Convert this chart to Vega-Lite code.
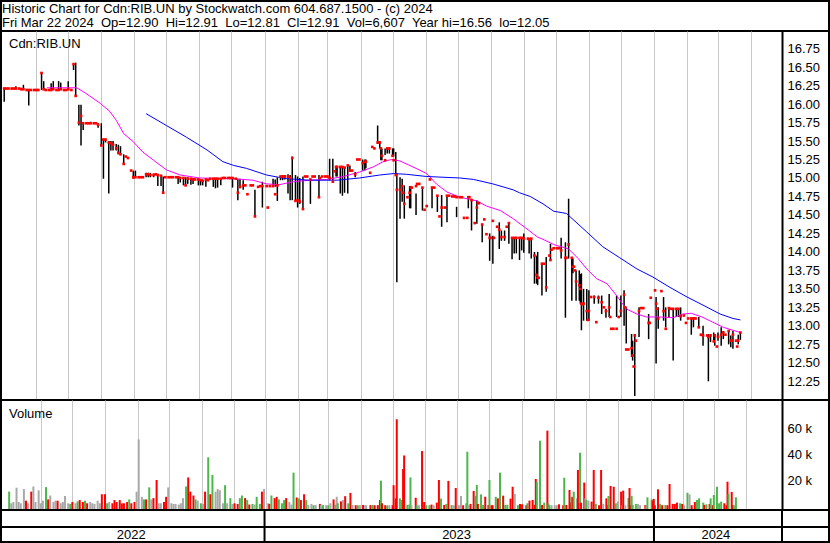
{
"$schema": "https://vega.github.io/schema/vega-lite/v6.json",
"padding": 0,
"bounds": "flush",
"spacing": 0,
"background": "white",
"config": {
  "font": "Liberation Sans",
  "view": {"stroke": "black", "strokeWidth": 2},
  "axis": {"minExtent": 0, "maxExtent": 0},
  "title": {"fontWeight": "normal", "fontSize": 13, "font": "Liberation Sans", "color": "black", "anchor": "start", "frame": "group"}
},
"resolve": {"scale": {"x": "independent", "y": "independent", "color": "independent"}},
"datasets": {
"hd": [
 {"n": 1, "s": "Historic Chart for Cdn:RIB.UN by Stockwatch.com 604.687.1500 - (c) 2024"},
 {"n": 2, "s": "Fri Mar 22 2024\u00a0 Op=12.90\u00a0 Hi=12.91\u00a0 Lo=12.81\u00a0 Cl=12.91\u00a0 Vol=6,607\u00a0 Year hi=16.56\u00a0 lo=12.05"}
],
"pg": [{"p":12.25},{"p":12.5},{"p":12.75},{"p":13},{"p":13.25},{"p":13.5},{"p":13.75},{"p":14},{"p":14.25},{"p":14.5},{"p":14.75},{"p":15},{"p":15.25},{"p":15.5},{"p":15.75},{"p":16},{"p":16.25},{"p":16.5},{"p":16.75}],
"vg": [{"q": 20000}, {"q": 40000}, {"q": 60000}],
"yb": [{"d": "2023-01-01"}, {"d": "2024-01-01"}, {"d": "2024-04-30"}],
"yr": [{"yr": "2022", "d": "2022-08-29"}, {"yr": "2023", "d": "2023-06-30"}, {"yr": "2024", "d": "2024-02-28"}],
"ma": [
{"d":"2022-06-11","m":16.22,"s":"m"},{"d":"2022-07-09","m":16.22,"s":"m"},{"d":"2022-07-17","m":16.15,"s":"m"},{"d":"2022-07-31","m":16.01,"s":"m"},{"d":"2022-08-09","m":15.9,"s":"m"},{"d":"2022-08-15","m":15.78,"s":"m"},{"d":"2022-08-22","m":15.6,"s":"m"},{"d":"2022-08-31","m":15.49,"s":"m"},{"d":"2022-09-09","m":15.35,"s":"m"},{"d":"2022-09-19","m":15.24,"s":"m"},{"d":"2022-10-01","m":15.11,"s":"m"},{"d":"2022-10-14","m":15.04,"s":"m"},{"d":"2022-11-01","m":15.0,"s":"m"},{"d":"2022-12-02","m":14.99,"s":"m"},{"d":"2022-12-21","m":14.97,"s":"m"},{"d":"2023-01-03","m":14.92,"s":"m"},{"d":"2023-01-15","m":14.91,"s":"m"},{"d":"2023-01-28","m":14.95,"s":"m"},{"d":"2023-02-12","m":14.97,"s":"m"},{"d":"2023-02-28","m":14.98,"s":"m"},{"d":"2023-03-16","m":15.02,"s":"m"},{"d":"2023-03-31","m":15.08,"s":"m"},{"d":"2023-04-13","m":15.15,"s":"m"},{"d":"2023-04-22","m":15.22,"s":"m"},{"d":"2023-04-30","m":15.25,"s":"m"},{"d":"2023-05-08","m":15.23,"s":"m"},{"d":"2023-05-23","m":15.13,"s":"m"},{"d":"2023-06-02","m":15.06,"s":"m"},{"d":"2023-06-11","m":14.92,"s":"m"},{"d":"2023-06-21","m":14.81,"s":"m"},{"d":"2023-07-03","m":14.74,"s":"m"},{"d":"2023-07-19","m":14.69,"s":"m"},{"d":"2023-07-28","m":14.62,"s":"m"},{"d":"2023-08-10","m":14.56,"s":"m"},{"d":"2023-08-22","m":14.45,"s":"m"},{"d":"2023-09-04","m":14.31,"s":"m"},{"d":"2023-09-14","m":14.2,"s":"m"},{"d":"2023-09-19","m":14.17,"s":"m"},{"d":"2023-09-29","m":14.1,"s":"m"},{"d":"2023-10-13","m":14.04,"s":"m"},{"d":"2023-10-22","m":13.91,"s":"m"},{"d":"2023-10-30","m":13.77,"s":"m"},{"d":"2023-11-08","m":13.64,"s":"m"},{"d":"2023-11-18","m":13.57,"s":"m"},{"d":"2023-11-27","m":13.41,"s":"m"},{"d":"2023-12-06","m":13.23,"s":"m"},{"d":"2023-12-16","m":13.16,"s":"m"},{"d":"2023-12-25","m":13.12,"s":"m"},{"d":"2024-01-07","m":13.12,"s":"m"},{"d":"2024-01-19","m":13.11,"s":"m"},{"d":"2024-01-28","m":13.16,"s":"m"},{"d":"2024-02-05","m":13.17,"s":"m"},{"d":"2024-02-15","m":13.12,"s":"m"},{"d":"2024-02-25","m":13.05,"s":"m"},{"d":"2024-03-06","m":12.98,"s":"m"},{"d":"2024-03-15","m":12.94,"s":"m"},{"d":"2024-03-22","m":12.91,"s":"m"},
{"d":"2022-09-12","m":15.87,"s":"b"},{"d":"2022-10-01","m":15.71,"s":"b"},{"d":"2022-10-20","m":15.55,"s":"b"},{"d":"2022-11-08","m":15.38,"s":"b"},{"d":"2022-11-23","m":15.22,"s":"b"},{"d":"2022-12-03","m":15.17,"s":"b"},{"d":"2022-12-15","m":15.13,"s":"b"},{"d":"2023-01-03","m":15.04,"s":"b"},{"d":"2023-01-14","m":15.01,"s":"b"},{"d":"2023-01-22","m":14.99,"s":"b"},{"d":"2023-02-12","m":14.97,"s":"b"},{"d":"2023-03-10","m":14.97,"s":"b"},{"d":"2023-03-31","m":15.0,"s":"b"},{"d":"2023-04-19","m":15.04,"s":"b"},{"d":"2023-05-02","m":15.06,"s":"b"},{"d":"2023-05-14","m":15.05,"s":"b"},{"d":"2023-06-02","m":15.02,"s":"b"},{"d":"2023-07-03","m":15.0,"s":"b"},{"d":"2023-07-16","m":14.98,"s":"b"},{"d":"2023-08-03","m":14.92,"s":"b"},{"d":"2023-08-22","m":14.84,"s":"b"},{"d":"2023-08-28","m":14.8,"s":"b"},{"d":"2023-09-07","m":14.75,"s":"b"},{"d":"2023-09-19","m":14.65,"s":"b"},{"d":"2023-09-29","m":14.55,"s":"b"},{"d":"2023-10-11","m":14.52,"s":"b"},{"d":"2023-10-30","m":14.27,"s":"b"},{"d":"2023-11-14","m":14.07,"s":"b"},{"d":"2023-11-30","m":13.92,"s":"b"},{"d":"2023-12-16","m":13.77,"s":"b"},{"d":"2023-12-31","m":13.66,"s":"b"},{"d":"2024-01-16","m":13.52,"s":"b"},{"d":"2024-02-01","m":13.39,"s":"b"},{"d":"2024-02-16","m":13.28,"s":"b"},{"d":"2024-03-03","m":13.16,"s":"b"},{"d":"2024-03-15","m":13.1,"s":"b"},{"d":"2024-03-22","m":13.08,"s":"b"}
],
"px": [
{"d":"2022-05-02","h":16.22,"l":16.03,"c":16.21,"v":11000,"t":"u"},
{"d":"2022-05-04","c":16.21,"v":2000,"t":"n"},
{"d":"2022-05-06","c":16.21,"v":3000,"t":"n"},
{"d":"2022-05-09","c":16.21,"v":14000,"t":"n"},
{"d":"2022-05-11","c":16.21,"v":3000,"t":"n"},
{"d":"2022-05-13","h":16.24,"l":16.21,"c":16.21,"v":2000,"t":"n"},
{"d":"2022-05-16","c":16.21,"v":13000,"t":"n"},
{"d":"2022-05-18","h":16.22,"l":16.19,"c":16.2,"v":4000,"t":"d"},
{"d":"2022-05-20","h":16.26,"l":16.19,"c":16.2,"v":2000,"t":"n"},
{"d":"2022-05-23","c":16.19,"v":11000,"t":"d"},
{"d":"2022-05-25","h":16.2,"l":15.98,"c":16.19,"v":15000,"t":"n"},
{"d":"2022-05-27","c":16.19,"v":3000,"t":"n"},
{"d":"2022-05-30","c":16.19,"v":12000,"t":"n"},
{"d":"2022-06-01","c":16.19,"v":2000,"t":"n"},
{"d":"2022-06-03","c":16.19,"v":4000,"t":"n"},
{"d":"2022-06-06","h":16.43,"l":16.19,"c":16.42,"v":14500,"t":"u"},
{"d":"2022-06-08","h":16.31,"l":16.19,"c":16.2,"v":5000,"t":"d"},
{"d":"2022-06-10","c":16.19,"v":8000,"t":"n"},
{"d":"2022-06-13","c":16.19,"v":3000,"t":"n"},
{"d":"2022-06-15","h":16.28,"l":16.19,"c":16.19,"v":4000,"t":"n"},
{"d":"2022-06-17","h":16.31,"l":16.2,"c":16.2,"v":4000,"t":"d"},
{"d":"2022-06-20","c":16.19,"v":2000,"t":"n"},
{"d":"2022-06-22","h":16.31,"l":16.19,"c":16.19,"v":3000,"t":"n"},
{"d":"2022-06-24","h":16.29,"l":16.21,"c":16.2,"v":7700,"t":"n"},
{"d":"2022-06-27","c":16.19,"v":2000,"t":"n"},
{"d":"2022-06-29","c":16.19,"v":1500,"t":"u"},
{"d":"2022-07-01","h":16.31,"l":16.2,"c":16.2,"v":3000,"t":"d"},
{"d":"2022-07-04","c":16.19,"v":2000,"t":"n"},
{"d":"2022-07-06","h":16.54,"l":16.46,"c":16.54,"v":3500,"t":"u"},
{"d":"2022-07-08","h":16.56,"l":16.1,"c":16.11,"v":4500,"t":"d"},
{"d":"2022-07-11","h":15.99,"l":15.71,"c":15.75,"v":3000,"t":"d"},
{"d":"2022-07-13","h":15.99,"l":15.44,"c":15.84,"v":4000,"t":"u"},
{"d":"2022-07-15","h":15.74,"l":15.65,"c":15.74,"v":2000,"t":"d"},
{"d":"2022-07-18","c":15.74,"v":3000,"t":"n"},
{"d":"2022-07-20","c":15.74,"v":2000,"t":"n"},
{"d":"2022-07-22","h":15.76,"l":15.73,"c":15.74,"v":1500,"t":"n"},
{"d":"2022-07-25","c":15.74,"v":4000,"t":"n"},
{"d":"2022-07-27","c":15.74,"v":2000,"t":"n"},
{"d":"2022-07-29","h":15.74,"l":15.68,"c":15.72,"v":9000,"t":"d"},
{"d":"2022-08-01","h":15.74,"l":15.44,"c":15.44,"v":9000,"t":"d"},
{"d":"2022-08-03","h":15.53,"l":14.99,"c":15.52,"v":2000,"t":"u"},
{"d":"2022-08-05","h":15.52,"l":15.48,"c":15.52,"v":3000,"t":"n"},
{"d":"2022-08-08","h":15.5,"l":14.79,"c":15.48,"v":2000,"t":"d"},
{"d":"2022-08-10","h":15.5,"l":15.37,"c":15.47,"v":4500,"t":"d"},
{"d":"2022-08-12","h":15.5,"l":15.37,"c":15.45,"v":3000,"t":"d"},
{"d":"2022-08-15","h":15.46,"l":15.37,"c":15.4,"v":4500,"t":"d"},
{"d":"2022-08-17","h":15.45,"l":15.32,"c":15.34,"v":2000,"t":"d"},
{"d":"2022-08-19","h":15.43,"l":15.32,"c":15.32,"v":2000,"t":"d"},
{"d":"2022-08-22","h":15.32,"l":15.18,"c":15.19,"v":3000,"t":"d"},
{"d":"2022-08-24","c":15.29,"v":5000,"t":"u"},
{"d":"2022-08-26","c":15.27,"v":2000,"t":"d"},
{"d":"2022-08-29","c":15.1,"v":3000,"t":"d"},
{"d":"2022-08-31","h":15.1,"l":14.99,"c":15.01,"v":11000,"t":"n"},
{"d":"2022-09-02","h":15.1,"l":15.0,"c":15.01,"v":51400,"t":"n"},
{"d":"2022-09-05","c":15.01,"v":7000,"t":"n"},
{"d":"2022-09-07","c":15.01,"v":5000,"t":"u"},
{"d":"2022-09-09","c":15.01,"v":5000,"t":"d"},
{"d":"2022-09-12","h":15.07,"l":15.01,"c":15.05,"v":14300,"t":"u"},
{"d":"2022-09-14","h":15.07,"l":15.01,"c":15.05,"v":5000,"t":"n"},
{"d":"2022-09-16","h":15.07,"l":15.01,"c":15.04,"v":6000,"t":"d"},
{"d":"2022-09-19","h":15.06,"l":15.01,"c":15.04,"v":20000,"t":"d"},
{"d":"2022-09-21","c":15.05,"v":2000,"t":"n"},
{"d":"2022-09-23","h":15.04,"l":14.89,"c":15.04,"v":2000,"t":"n"},
{"d":"2022-09-26","h":15.04,"l":14.89,"c":15.03,"v":3000,"t":"d"},
{"d":"2022-09-28","h":15.02,"l":14.8,"c":14.8,"v":7000,"t":"d"},
{"d":"2022-09-30","c":15.01,"v":14300,"t":"n"},
{"d":"2022-10-03","c":15.01,"v":2000,"t":"n"},
{"d":"2022-10-05","c":15.01,"v":1500,"t":"n"},
{"d":"2022-10-07","c":15.01,"v":1500,"t":"n"},
{"d":"2022-10-10","c":15.01,"v":1000,"t":"n"},
{"d":"2022-10-12","h":15.01,"l":14.92,"c":15.01,"v":2000,"t":"n"},
{"d":"2022-10-14","h":15.01,"l":14.94,"c":15.0,"v":6000,"t":"n"},
{"d":"2022-10-17","h":15.01,"l":14.9,"c":15.0,"v":15000,"t":"u"},
{"d":"2022-10-19","h":15.01,"l":14.9,"c":14.9,"v":22000,"t":"d"},
{"d":"2022-10-21","h":15.01,"l":14.92,"c":14.99,"v":11000,"t":"d"},
{"d":"2022-10-24","h":15.0,"l":14.91,"c":14.99,"v":8000,"t":"d"},
{"d":"2022-10-26","h":15.0,"l":14.92,"c":14.98,"v":5000,"t":"u"},
{"d":"2022-10-28","c":14.98,"v":4000,"t":"n"},
{"d":"2022-10-31","h":14.99,"l":14.9,"c":14.98,"v":2000,"t":"u"},
{"d":"2022-11-02","h":14.98,"l":14.9,"c":14.97,"v":1500,"t":"n"},
{"d":"2022-11-04","h":14.98,"l":14.9,"c":14.96,"v":11000,"t":"d"},
{"d":"2022-11-07","h":14.98,"l":14.88,"c":14.98,"v":37600,"t":"u"},
{"d":"2022-11-09","c":14.97,"v":9000,"t":"d"},
{"d":"2022-11-11","c":14.99,"v":24000,"t":"u"},
{"d":"2022-11-14","h":14.99,"l":14.88,"c":14.99,"v":11000,"t":"n"},
{"d":"2022-11-16","h":14.99,"l":14.86,"c":14.99,"v":13000,"t":"n"},
{"d":"2022-11-18","h":14.99,"l":14.87,"c":14.99,"v":12000,"t":"n"},
{"d":"2022-11-21","h":14.99,"l":14.9,"c":14.99,"v":2000,"t":"n"},
{"d":"2022-11-23","c":15.0,"v":16000,"t":"u"},
{"d":"2022-11-25","c":15.0,"v":2000,"t":"n"},
{"d":"2022-11-28","c":15.0,"v":6000,"t":"u"},
{"d":"2022-11-30","c":15.0,"v":1500,"t":"n"},
{"d":"2022-12-02","h":15.0,"l":14.87,"c":15.0,"v":2000,"t":"d"},
{"d":"2022-12-05","c":14.99,"v":1500,"t":"d"},
{"d":"2022-12-07","h":14.99,"l":14.7,"c":14.8,"v":6000,"t":"u"},
{"d":"2022-12-09","h":14.99,"l":14.86,"c":14.88,"v":8000,"t":"u"},
{"d":"2022-12-12","h":14.97,"l":14.84,"c":14.9,"v":6000,"t":"d"},
{"d":"2022-12-14","c":14.9,"v":4500,"t":"u"},
{"d":"2022-12-16","c":14.78,"v":1000,"t":"d"},
{"d":"2022-12-19","c":14.9,"v":1500,"t":"u"},
{"d":"2022-12-21","c":14.9,"v":1000,"t":"n"},
{"d":"2022-12-23","h":14.84,"l":14.48,"c":14.48,"v":7000,"t":"u"},
{"d":"2022-12-26","c":14.88,"v":1500,"t":"u"},
{"d":"2022-12-28","c":14.89,"v":11000,"t":"d"},
{"d":"2022-12-30","h":14.95,"l":14.6,"c":14.89,"v":13000,"t":"n"},
{"d":"2023-01-03","c":14.89,"v":2000,"t":"n"},
{"d":"2023-01-04","c":14.6,"v":1500,"t":"d"},
{"d":"2023-01-06","c":14.89,"v":8000,"t":"u"},
{"d":"2023-01-09","h":14.99,"l":14.88,"c":14.89,"v":6000,"t":"d"},
{"d":"2023-01-11","h":14.98,"l":14.88,"c":14.78,"v":7000,"t":"d"},
{"d":"2023-01-13","h":15.01,"l":14.69,"c":14.9,"v":5000,"t":"u"},
{"d":"2023-01-16","h":15.03,"l":14.97,"c":15.02,"v":2000,"t":"u"},
{"d":"2023-01-18","h":15.04,"l":14.97,"c":15.02,"v":4500,"t":"u"},
{"d":"2023-01-20","h":15.04,"l":14.98,"c":15.02,"v":6000,"t":"d"},
{"d":"2023-01-23","h":15.05,"l":14.79,"c":15.02,"v":3000,"t":"n"},
{"d":"2023-01-25","h":15.04,"l":14.7,"c":15.0,"v":1000,"t":"n"},
{"d":"2023-01-27","h":15.29,"l":14.7,"c":15.27,"v":25700,"t":"u"},
{"d":"2023-01-30","h":15.04,"l":14.7,"c":14.69,"v":6500,"t":"d"},
{"d":"2023-02-01","h":15.02,"l":14.6,"c":14.7,"v":5800,"t":"u"},
{"d":"2023-02-03","h":15.0,"l":14.65,"c":14.68,"v":4500,"t":"d"},
{"d":"2023-02-06","h":15.02,"l":14.58,"c":14.58,"v":9000,"t":"d"},
{"d":"2023-02-08","c":15.02,"v":4500,"t":"u"},
{"d":"2023-02-10","c":15.02,"v":700,"t":"n"},
{"d":"2023-02-13","h":14.99,"l":14.65,"c":14.98,"v":1500,"t":"n"},
{"d":"2023-02-15","c":15.02,"v":500,"t":"u"},
{"d":"2023-02-17","c":15.02,"v":800,"t":"n"},
{"d":"2023-02-21","h":15.04,"l":14.74,"c":14.74,"v":1500,"t":"d"},
{"d":"2023-02-22","c":15.0,"v":500,"t":"n"},
{"d":"2023-02-24","c":15.02,"v":600,"t":"u"},
{"d":"2023-02-27","c":15.02,"v":500,"t":"n"},
{"d":"2023-03-01","c":15.02,"v":500,"t":"u"},
{"d":"2023-03-03","h":15.26,"l":14.97,"c":15.0,"v":2000,"t":"n"},
{"d":"2023-03-06","h":15.26,"l":14.97,"c":14.95,"v":5000,"t":"d"},
{"d":"2023-03-08","c":15.09,"v":1000,"t":"u"},
{"d":"2023-03-09","h":15.15,"l":15.02,"c":15.15,"v":7000,"t":"n"},
{"d":"2023-03-10","h":15.15,"l":15.02,"c":15.15,"v":2000,"t":"u"},
{"d":"2023-03-13","h":15.15,"l":14.79,"c":15.15,"v":3500,"t":"d"},
{"d":"2023-03-15","h":15.15,"l":14.76,"c":15.15,"v":4500,"t":"n"},
{"d":"2023-03-17","h":15.15,"l":14.8,"c":15.14,"v":7500,"t":"d"},
{"d":"2023-03-20","h":15.17,"l":14.79,"c":15.17,"v":2000,"t":"u"},
{"d":"2023-03-22","h":15.17,"l":15.08,"c":15.1,"v":10000,"t":"d"},
{"d":"2023-03-24","c":15.1,"v":700,"t":"n"},
{"d":"2023-03-27","h":15.08,"l":15.01,"c":15.05,"v":500,"t":"d"},
{"d":"2023-03-29","c":15.25,"v":500,"t":"u"},
{"d":"2023-03-31","c":15.25,"v":500,"t":"n"},
{"d":"2023-04-03","h":15.25,"l":15.1,"c":15.2,"v":700,"t":"d"},
{"d":"2023-04-05","h":15.25,"l":15.1,"c":15.22,"v":500,"t":"n"},
{"d":"2023-04-06","h":15.25,"l":15.13,"c":15.22,"v":500,"t":"n"},
{"d":"2023-04-10","c":15.07,"v":600,"t":"d"},
{"d":"2023-04-12","c":15.42,"v":700,"t":"u"},
{"d":"2023-04-14","c":15.4,"v":500,"t":"d"},
{"d":"2023-04-17","h":15.71,"l":15.46,"c":15.48,"v":600,"t":"d"},
{"d":"2023-04-19","h":15.5,"l":15.4,"c":15.48,"v":4500,"t":"d"},
{"d":"2023-04-20","h":15.4,"l":15.24,"c":15.4,"v":19500,"t":"u"},
{"d":"2023-04-21","h":15.4,"l":15.24,"c":15.3,"v":2000,"t":"d"},
{"d":"2023-04-24","h":15.4,"l":15.31,"c":15.24,"v":500,"t":"d"},
{"d":"2023-04-26","h":15.4,"l":15.33,"c":15.4,"v":400,"t":"u"},
{"d":"2023-04-28","h":15.4,"l":15.33,"c":15.4,"v":500,"t":"n"},
{"d":"2023-05-01","h":15.4,"l":15.29,"c":15.3,"v":500,"t":"d"},
{"d":"2023-05-02","h":15.4,"l":15.29,"c":15.24,"v":16000,"t":"d"},
{"d":"2023-05-04","h":15.35,"l":15.04,"c":15.04,"v":5800,"t":"d"},
{"d":"2023-05-05","h":15.06,"l":13.59,"c":14.84,"v":67000,"t":"d"},
{"d":"2023-05-08","h":15.01,"l":14.45,"c":14.84,"v":5800,"t":"u"},
{"d":"2023-05-10","h":14.99,"l":14.68,"c":14.89,"v":4500,"t":"u"},
{"d":"2023-05-11","c":14.8,"v":28500,"t":"d"},
{"d":"2023-05-12","h":14.9,"l":14.45,"c":14.65,"v":39000,"t":"d"},
{"d":"2023-05-15","c":14.74,"v":800,"t":"u"},
{"d":"2023-05-17","h":14.89,"l":14.59,"c":14.8,"v":1000,"t":"u"},
{"d":"2023-05-18","h":14.89,"l":14.59,"c":14.87,"v":22000,"t":"u"},
{"d":"2023-05-19","c":14.87,"v":500,"t":"n"},
{"d":"2023-05-23","h":14.79,"l":14.5,"c":14.89,"v":6300,"t":"d"},
{"d":"2023-05-24","c":14.92,"v":500,"t":"u"},
{"d":"2023-05-26","c":14.92,"v":500,"t":"n"},
{"d":"2023-05-29","h":14.87,"l":14.56,"c":14.87,"v":42400,"t":"d"},
{"d":"2023-05-31","c":14.57,"v":3000,"t":"d"},
{"d":"2023-06-02","c":14.62,"v":500,"t":"u"},
{"d":"2023-06-05","c":14.98,"v":500,"t":"u"},
{"d":"2023-06-07","h":14.88,"l":14.59,"c":14.87,"v":1000,"t":"d"},
{"d":"2023-06-09","c":14.87,"v":500,"t":"n"},
{"d":"2023-06-12","h":14.77,"l":14.54,"c":14.76,"v":2500,"t":"d"},
{"d":"2023-06-14","c":14.48,"v":20000,"t":"d"},
{"d":"2023-06-16","h":14.77,"l":14.34,"c":14.6,"v":5600,"t":"u"},
{"d":"2023-06-19","c":14.6,"v":700,"t":"d"},
{"d":"2023-06-21","h":14.77,"l":14.4,"c":14.76,"v":1500,"t":"u"},
{"d":"2023-06-23","c":14.76,"v":19300,"t":"d"},
{"d":"2023-06-26","c":14.75,"v":700,"t":"u"},
{"d":"2023-06-28","c":14.75,"v":500,"t":"n"},
{"d":"2023-06-30","h":14.61,"l":14.47,"c":14.74,"v":13800,"t":"d"},
{"d":"2023-07-03","c":14.74,"v":500,"t":"n"},
{"d":"2023-07-05","c":14.74,"v":7600,"t":"n"},
{"d":"2023-07-07","c":14.46,"v":500,"t":"d"},
{"d":"2023-07-10","c":14.46,"v":2000,"t":"u"},
{"d":"2023-07-11","h":14.74,"l":14.59,"c":14.74,"v":41900,"t":"u"},
{"d":"2023-07-12","c":14.74,"v":500,"t":"n"},
{"d":"2023-07-14","h":14.72,"l":14.29,"c":14.7,"v":1500,"t":"d"},
{"d":"2023-07-17","c":14.39,"v":11500,"t":"d"},
{"d":"2023-07-19","h":14.7,"l":14.38,"c":14.6,"v":7600,"t":"u"},
{"d":"2023-07-20","c":14.66,"v":16200,"t":"u"},
{"d":"2023-07-21","c":14.66,"v":1500,"t":"d"},
{"d":"2023-07-24","h":14.38,"l":14.13,"c":14.37,"v":8900,"t":"u"},
{"d":"2023-07-26","c":14.44,"v":800,"t":"u"},
{"d":"2023-07-28","c":14.24,"v":7100,"t":"d"},
{"d":"2023-07-31","h":14.25,"l":13.88,"c":14.19,"v":700,"t":"d"},
{"d":"2023-08-01","c":14.19,"v":20000,"t":"u"},
{"d":"2023-08-03","h":14.22,"l":13.84,"c":14.42,"v":500,"t":"d"},
{"d":"2023-08-04","c":14.19,"v":500,"t":"d"},
{"d":"2023-08-07","c":14.34,"v":7000,"t":"u"},
{"d":"2023-08-09","h":14.4,"l":14.04,"c":14.3,"v":5800,"t":"d"},
{"d":"2023-08-11","h":14.29,"l":14.15,"c":14.2,"v":25700,"t":"u"},
{"d":"2023-08-14","h":14.29,"l":14.15,"c":14.2,"v":7900,"t":"d"},
{"d":"2023-08-16","c":14.34,"v":700,"t":"u"},
{"d":"2023-08-18","h":14.39,"l":14.11,"c":14.39,"v":800,"t":"u"},
{"d":"2023-08-21","h":14.19,"l":13.9,"c":14.19,"v":5600,"t":"d"},
{"d":"2023-08-23","h":14.19,"l":13.98,"c":14.19,"v":14800,"t":"d"},
{"d":"2023-08-25","h":14.19,"l":13.98,"c":14.19,"v":9200,"t":"n"},
{"d":"2023-08-28","h":14.2,"l":13.89,"c":14.19,"v":500,"t":"u"},
{"d":"2023-08-30","h":14.19,"l":14.02,"c":14.19,"v":1500,"t":"d"},
{"d":"2023-09-01","h":14.25,"l":13.99,"c":14.18,"v":1200,"t":"d"},
{"d":"2023-09-05","c":14.18,"v":500,"t":"d"},
{"d":"2023-09-06","h":14.18,"l":13.98,"c":14.17,"v":2000,"t":"u"},
{"d":"2023-09-08","h":14.18,"l":13.91,"c":14.18,"v":4100,"t":"d"},
{"d":"2023-09-11","h":14.0,"l":13.57,"c":13.95,"v":4600,"t":"d"},
{"d":"2023-09-13","h":13.95,"l":13.57,"c":13.69,"v":800,"t":"d"},
{"d":"2023-09-14","h":14.0,"l":13.55,"c":13.65,"v":20800,"t":"d"},
{"d":"2023-09-15","c":13.65,"v":18700,"t":"u"},
{"d":"2023-09-18","h":13.84,"l":13.41,"c":13.84,"v":50400,"t":"u"},
{"d":"2023-09-20","c":13.84,"v":700,"t":"d"},
{"d":"2023-09-22","h":13.93,"l":13.46,"c":13.52,"v":2500,"t":"u"},
{"d":"2023-09-25","c":13.95,"v":58200,"t":"d"},
{"d":"2023-09-26","h":14.11,"l":13.89,"c":13.89,"v":2000,"t":"u"},
{"d":"2023-09-27","c":14.03,"v":500,"t":"u"},
{"d":"2023-09-29","c":14.05,"v":500,"t":"n"},
{"d":"2023-10-02","c":14.05,"v":500,"t":"n"},
{"d":"2023-10-04","c":14.05,"v":500,"t":"n"},
{"d":"2023-10-06","h":14.19,"l":13.91,"c":14.02,"v":1200,"t":"d"},
{"d":"2023-10-10","h":14.13,"l":13.11,"c":13.92,"v":500,"t":"d"},
{"d":"2023-10-11","c":13.92,"v":21800,"t":"u"},
{"d":"2023-10-13","h":14.72,"l":13.91,"c":14.1,"v":700,"t":"d"},
{"d":"2023-10-16","h":13.91,"l":13.34,"c":13.92,"v":12300,"t":"d"},
{"d":"2023-10-17","h":13.91,"l":13.71,"c":13.8,"v":2500,"t":"d"},
{"d":"2023-10-18","c":13.8,"v":7100,"t":"u"},
{"d":"2023-10-19","c":13.75,"v":6600,"t":"d"},
{"d":"2023-10-20","h":13.75,"l":13.34,"c":13.6,"v":11000,"t":"u"},
{"d":"2023-10-23","h":13.75,"l":13.34,"c":13.55,"v":5800,"t":"n"},
{"d":"2023-10-24","h":13.7,"l":13.3,"c":13.5,"v":27800,"t":"d"},
{"d":"2023-10-25","h":13.71,"l":12.94,"c":13.3,"v":2000,"t":"d"},
{"d":"2023-10-26","c":13.29,"v":41100,"t":"u"},
{"d":"2023-10-27","h":13.5,"l":13.07,"c":13.3,"v":2500,"t":"d"},
{"d":"2023-10-30","h":13.5,"l":13.07,"c":13.2,"v":18000,"t":"d"},
{"d":"2023-10-31","c":13.08,"v":5800,"t":"n"},
{"d":"2023-11-01","h":13.48,"l":13.07,"c":13.2,"v":4600,"t":"u"},
{"d":"2023-11-03","c":13.39,"v":4100,"t":"n"},
{"d":"2023-11-06","h":13.41,"l":13.3,"c":13.39,"v":3300,"t":"d"},
{"d":"2023-11-08","c":13.05,"v":27800,"t":"d"},
{"d":"2023-11-10","h":13.41,"l":13.3,"c":13.38,"v":1500,"t":"u"},
{"d":"2023-11-13","h":13.41,"l":13.16,"c":13.32,"v":500,"t":"d"},
{"d":"2023-11-15","c":13.25,"v":27800,"t":"d"},
{"d":"2023-11-17","h":13.23,"l":13.11,"c":13.2,"v":1500,"t":"n"},
{"d":"2023-11-20","h":13.43,"l":13.12,"c":13.25,"v":5800,"t":"d"},
{"d":"2023-11-21","c":13.12,"v":500,"t":"d"},
{"d":"2023-11-22","c":12.96,"v":7600,"t":"u"},
{"d":"2023-11-24","c":12.96,"v":15400,"t":"d"},
{"d":"2023-11-27","h":13.41,"l":13.12,"c":12.96,"v":14800,"t":"d"},
{"d":"2023-11-29","c":13.12,"v":2000,"t":"u"},
{"d":"2023-12-01","h":13.41,"l":13.12,"c":13.2,"v":3300,"t":"n"},
{"d":"2023-12-04","h":13.48,"l":13.0,"c":13.42,"v":11000,"t":"d"},
{"d":"2023-12-05","c":13.25,"v":500,"t":"n"},
{"d":"2023-12-06","h":13.25,"l":12.76,"c":12.68,"v":11800,"t":"d"},
{"d":"2023-12-08","c":12.68,"v":500,"t":"n"},
{"d":"2023-12-11","h":12.89,"l":12.58,"c":12.7,"v":6100,"t":"u"},
{"d":"2023-12-12","h":12.8,"l":12.53,"c":12.6,"v":13800,"t":"d"},
{"d":"2023-12-13","c":12.45,"v":500,"t":"d"},
{"d":"2023-12-14","h":12.89,"l":12.05,"c":12.87,"v":7600,"t":"u"},
{"d":"2023-12-15","c":12.8,"v":700,"t":"u"},
{"d":"2023-12-18","h":13.25,"l":12.85,"c":13.2,"v":1500,"t":"u"},
{"d":"2023-12-20","c":13.24,"v":1500,"t":"n"},
{"d":"2023-12-22","c":13.24,"v":500,"t":"n"},
{"d":"2023-12-27","h":13.16,"l":12.82,"c":13.04,"v":700,"t":"d"},
{"d":"2023-12-28","c":13.04,"v":500,"t":"n"},
{"d":"2023-12-29","c":13.38,"v":6600,"t":"u"},
{"d":"2024-01-02","c":13.48,"v":5000,"t":"u"},
{"d":"2024-01-03","h":13.39,"l":12.49,"c":13.3,"v":4100,"t":"d"},
{"d":"2024-01-04","c":13.23,"v":5400,"t":"d"},
{"d":"2024-01-05","h":13.25,"l":12.96,"c":13.1,"v":500,"t":"d"},
{"d":"2024-01-08","c":13.47,"v":12800,"t":"d"},
{"d":"2024-01-10","h":13.39,"l":13.07,"c":13.2,"v":1500,"t":"u"},
{"d":"2024-01-12","h":13.25,"l":12.98,"c":12.96,"v":500,"t":"d"},
{"d":"2024-01-15","h":13.24,"l":13.12,"c":13.24,"v":700,"t":"u"},
{"d":"2024-01-17","c":13.23,"v":500,"t":"d"},
{"d":"2024-01-19","h":13.24,"l":12.53,"c":13.23,"v":16900,"t":"d"},
{"d":"2024-01-22","h":13.24,"l":13.12,"c":13.23,"v":1500,"t":"d"},
{"d":"2024-01-24","h":13.24,"l":13.12,"c":13.23,"v":1500,"t":"d"},
{"d":"2024-01-26","h":13.25,"l":13.07,"c":13.13,"v":2500,"t":"d"},
{"d":"2024-01-29","c":13.14,"v":2000,"t":"u"},
{"d":"2024-01-31","c":13.04,"v":1500,"t":"d"},
{"d":"2024-02-02","c":13.1,"v":500,"t":"n"},
{"d":"2024-02-05","h":13.1,"l":12.88,"c":13.1,"v":10200,"t":"u"},
{"d":"2024-02-07","h":13.12,"l":12.98,"c":13.1,"v":8900,"t":"n"},
{"d":"2024-02-09","c":13.1,"v":500,"t":"d"},
{"d":"2024-02-12","h":13.12,"l":12.98,"c":12.98,"v":3000,"t":"d"},
{"d":"2024-02-14","c":12.88,"v":4600,"t":"u"},
{"d":"2024-02-16","h":13.0,"l":12.73,"c":12.87,"v":5800,"t":"u"},
{"d":"2024-02-20","c":12.87,"v":2500,"t":"u"},
{"d":"2024-02-21","h":12.89,"l":12.25,"c":12.85,"v":700,"t":"d"},
{"d":"2024-02-23","h":12.89,"l":12.78,"c":12.87,"v":1200,"t":"u"},
{"d":"2024-02-26","h":12.91,"l":12.8,"c":12.79,"v":1500,"t":"d"},
{"d":"2024-02-27","h":12.89,"l":12.73,"c":12.87,"v":5800,"t":"u"},
{"d":"2024-02-29","c":12.72,"v":500,"t":"d"},
{"d":"2024-03-01","h":12.91,"l":12.8,"c":12.85,"v":8400,"t":"u"},
{"d":"2024-03-04","h":12.98,"l":12.73,"c":12.88,"v":14800,"t":"u"},
{"d":"2024-03-06","h":12.93,"l":12.82,"c":12.91,"v":2000,"t":"u"},
{"d":"2024-03-08","c":12.88,"v":3300,"t":"u"},
{"d":"2024-03-11","h":12.93,"l":12.75,"c":12.93,"v":2000,"t":"d"},
{"d":"2024-03-13","h":12.87,"l":12.71,"c":12.8,"v":500,"t":"d"},
{"d":"2024-03-14","c":12.8,"v":18700,"t":"d"},
{"d":"2024-03-15","h":12.93,"l":12.69,"c":12.88,"v":9200,"t":"u"},
{"d":"2024-03-18","c":12.8,"v":10800,"t":"d"},
{"d":"2024-03-19","c":12.72,"v":500,"t":"d"},
{"d":"2024-03-20","h":12.88,"l":12.75,"c":12.8,"v":500,"t":"u"},
{"d":"2024-03-22","h":12.91,"l":12.81,"c":12.91,"v":6607,"t":"u"}
]
},
"vconcat": [
{
  "width": 828, "height": 30,
  "data": {"name": "hd"},
  "mark": {"type": "text", "align": "left", "baseline": "middle", "dx": 1, "fontSize": 13, "color": "black"},
  "encoding": {
    "x": {"datum": {"year": 2022, "month": 4, "date": 29, "utc": true}, "type": "temporal", "axis": null,
          "scale": {"domain": [{"year": 2022, "month": 4, "date": 29, "utc": true}, {"year": 2024, "month": 4, "date": 30, "utc": true}], "range": [0, 781], "nice": false}},
    "y": {"field": "n", "type": "ordinal", "axis": null, "scale": {"padding": 0.56}},
    "text": {"field": "s"}
  }
},
{
  "width": 828, "height": 369,
  "title": {"text": "Cdn:RIB.UN", "offset": -26, "baseline": "middle", "dx": 8},
  "resolve": {"axis": {"y": "independent"}},
  "encoding": {
    "x": {"field": "d", "type": "temporal",
          "scale": {"domain": [{"year": 2022, "month": 4, "date": 29, "utc": true}, {"year": 2024, "month": 4, "date": 30, "utc": true}], "range": [0, 781], "nice": false},
          "axis": {"orient": "bottom", "grid": true, "gridColor": "#c8c8c8", "gridWidth": 1, "labels": false, "ticks": false, "domain": false, "title": null,
                   "values": [{"year":2022,"month":6,"date":1,"utc":true},{"year":2022,"month":7,"date":1,"utc":true},{"year":2022,"month":8,"date":1,"utc":true},{"year":2022,"month":9,"date":1,"utc":true},{"year":2022,"month":10,"date":1,"utc":true},{"year":2022,"month":11,"date":1,"utc":true},{"year":2022,"month":12,"date":1,"utc":true},{"year":2023,"month":1,"date":1,"utc":true},{"year":2023,"month":2,"date":1,"utc":true},{"year":2023,"month":3,"date":1,"utc":true},{"year":2023,"month":4,"date":1,"utc":true},{"year":2023,"month":5,"date":1,"utc":true},{"year":2023,"month":6,"date":1,"utc":true},{"year":2023,"month":7,"date":1,"utc":true},{"year":2023,"month":8,"date":1,"utc":true},{"year":2023,"month":9,"date":1,"utc":true},{"year":2023,"month":10,"date":1,"utc":true},{"year":2023,"month":11,"date":1,"utc":true},{"year":2023,"month":12,"date":1,"utc":true},{"year":2024,"month":1,"date":1,"utc":true},{"year":2024,"month":2,"date":1,"utc":true},{"year":2024,"month":3,"date":1,"utc":true},{"year":2024,"month":4,"date":1,"utc":true}]}}
  },
  "layer": [
    {
      "data": {"name": "pg"},
      "mark": {"type": "tick", "orient": "horizontal", "color": "#c4c4c4", "size": 781, "thickness": 1, "opacity": 1},
      "encoding": {
        "x": {"datum": {"year": 2023, "month": 4, "date": 30, "utc": true}, "type": "temporal"},
        "y": {"field": "p", "type": "quantitative", "scale": {"domain": [11.997, 16.988], "zero": false, "nice": false}, "axis": null}
      }
    },
    {
      "data": {"name": "px"},
      "mark": {"type": "rule", "color": "black", "strokeWidth": 1.5},
      "encoding": {
        "y": {"field": "l", "type": "quantitative", "axis": null},
        "y2": {"field": "h"}
      }
    },
    {
      "data": {"name": "ma"},
      "mark": {"type": "line", "strokeWidth": 1},
      "encoding": {
        "y": {"field": "m", "type": "quantitative", "axis": null},
        "color": {"field": "s", "type": "nominal", "scale": {"domain": ["m", "b"], "range": ["#ff00ff", "#0000ff"]}, "legend": null}
      }
    },
    {
      "data": {"name": "px"},
      "mark": {"type": "square", "color": "#ff0000", "size": 7, "opacity": 1},
      "encoding": {
        "y": {"field": "c", "type": "quantitative",
              "axis": {"orient": "left", "offset": -781, "values": [12.25,12.5,12.75,13,13.25,13.5,13.75,14,14.25,14.5,14.75,15,15.25,15.5,15.75,16,16.25,16.5,16.75],
                       "format": ".2f", "grid": false, "ticks": false, "tickSize": 0,
                       "labelAlign": "left", "labelPadding": -5, "labelFontSize": 13, "labelColor": "black", "labelOverlap": false, "labelFlush": false,
                       "domain": true, "domainColor": "black", "domainWidth": 2, "title": null}}
      }
    }
  ]
},
{
  "width": 828, "height": 110,
  "title": {"text": "Volume", "offset": -27, "baseline": "middle", "dx": 8},
  "resolve": {"axis": {"y": "independent"}},
  "encoding": {
    "x": {"field": "d", "type": "temporal",
          "scale": {"domain": [{"year": 2022, "month": 4, "date": 29, "utc": true}, {"year": 2024, "month": 4, "date": 30, "utc": true}], "range": [0, 781], "nice": false},
          "axis": {"orient": "bottom", "grid": true, "gridColor": "#c8c8c8", "gridWidth": 1, "labels": false, "ticks": false, "domain": false, "title": null,
                   "values": [{"year":2022,"month":6,"date":1,"utc":true},{"year":2022,"month":7,"date":1,"utc":true},{"year":2022,"month":8,"date":1,"utc":true},{"year":2022,"month":9,"date":1,"utc":true},{"year":2022,"month":10,"date":1,"utc":true},{"year":2022,"month":11,"date":1,"utc":true},{"year":2022,"month":12,"date":1,"utc":true},{"year":2023,"month":1,"date":1,"utc":true},{"year":2023,"month":2,"date":1,"utc":true},{"year":2023,"month":3,"date":1,"utc":true},{"year":2023,"month":4,"date":1,"utc":true},{"year":2023,"month":5,"date":1,"utc":true},{"year":2023,"month":6,"date":1,"utc":true},{"year":2023,"month":7,"date":1,"utc":true},{"year":2023,"month":8,"date":1,"utc":true},{"year":2023,"month":9,"date":1,"utc":true},{"year":2023,"month":10,"date":1,"utc":true},{"year":2023,"month":11,"date":1,"utc":true},{"year":2023,"month":12,"date":1,"utc":true},{"year":2024,"month":1,"date":1,"utc":true},{"year":2024,"month":2,"date":1,"utc":true},{"year":2024,"month":3,"date":1,"utc":true},{"year":2024,"month":4,"date":1,"utc":true}]}}
  },
  "layer": [
    {
      "data": {"name": "vg"},
      "mark": {"type": "tick", "orient": "horizontal", "color": "#c4c4c4", "size": 781, "thickness": 1, "opacity": 1},
      "encoding": {
        "x": {"datum": {"year": 2023, "month": 4, "date": 30, "utc": true}, "type": "temporal"},
        "y": {"field": "q", "type": "quantitative", "scale": {"domain": [-3200, 81900], "zero": false, "nice": false}, "axis": null}
      }
    },
    {
      "data": {"name": "px"},
      "mark": {"type": "bar", "size": 2},
      "encoding": {
        "y": {"field": "v", "type": "quantitative",
              "axis": {"orient": "left", "offset": -781, "values": [20000, 40000, 60000], "labelExpr": "(datum.value / 1000) + ' k'",
                       "grid": false, "ticks": false, "tickSize": 0,
                       "labelAlign": "left", "labelPadding": -5, "labelFontSize": 13, "labelColor": "black", "labelOverlap": false, "labelFlush": false,
                       "domain": true, "domainColor": "black", "domainWidth": 2, "title": null}},
        "y2": {"datum": -3200},
        "color": {"field": "t", "type": "nominal", "scale": {"domain": ["u", "d", "n"], "range": ["#4cb84c", "#ff0000", "#a8a8a8"]}, "legend": null}
      }
    }
  ]
},
{
  "width": 828, "height": 17,
  "data": {"name": "yb"},
  "mark": {"type": "rule", "color": "black", "strokeWidth": 2},
  "encoding": {
    "x": {"field": "d", "type": "temporal", "axis": null,
          "scale": {"domain": [{"year": 2022, "month": 4, "date": 29, "utc": true}, {"year": 2024, "month": 4, "date": 30, "utc": true}], "range": [0, 781], "nice": false}}
  }
},
{
  "width": 828, "height": 15,
  "encoding": {
    "x": {"field": "d", "type": "temporal", "axis": null,
          "scale": {"domain": [{"year": 2022, "month": 4, "date": 29, "utc": true}, {"year": 2024, "month": 4, "date": 30, "utc": true}], "range": [0, 781], "nice": false}}
  },
  "layer": [
    {"data": {"name": "yb"}, "mark": {"type": "rule", "color": "black", "strokeWidth": 2}},
    {"data": {"name": "yr"}, "mark": {"type": "text", "fontSize": 13, "baseline": "middle", "align": "center", "color": "black"},
     "encoding": {"text": {"field": "yr"}}}
  ]
}
]
}
